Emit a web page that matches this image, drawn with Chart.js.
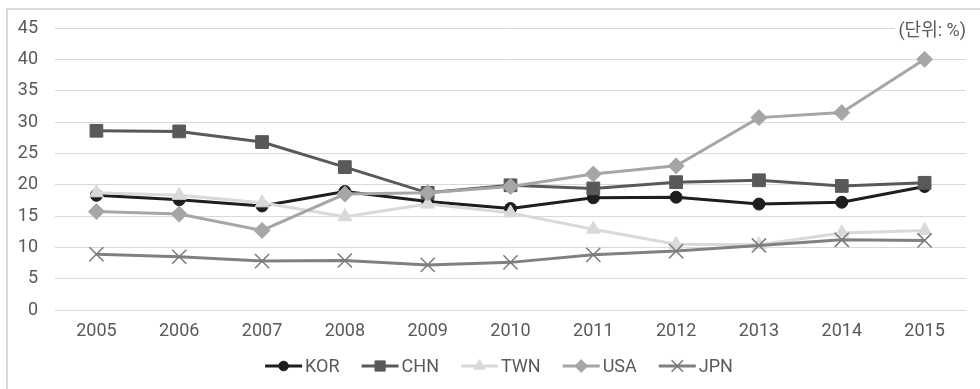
<!DOCTYPE html>
<html>
<head>
<meta charset="utf-8">
<script src="https://cdn.jsdelivr.net/npm/chart.js@4/dist/chart.umd.min.js"></script>
<style>
  html, body { margin: 0; padding: 0; background: #ffffff; }
  #wrap { position: relative; width: 980px; height: 389px; overflow: hidden; }
  #frame { position: absolute; left: 6px; top: 8px; width: 1000px; height: 400px;
           border-left: 2px solid #d9d9d9; border-top: 2px solid #d9d9d9; }
  canvas { position: absolute; left: 0; top: 0; }
</style>
</head>
<body>
<div id="wrap">
  <div id="frame"></div>
  <canvas id="c" width="980" height="389"></canvas>
</div>
<script>
// 연도별 비중 (%)
const years = ['2005', '2006', '2007', '2008', '2009', '2010', '2011', '2012', '2013', '2014', '2015'];
const kor = [18.3, 17.6, 16.6, 18.9, 17.3, 16.2, 17.9, 18.0, 16.9, 17.2, 19.7];
const chn = [28.6, 28.5, 26.8, 22.8, 18.7, 19.9, 19.4, 20.4, 20.7, 19.8, 20.3];
const twn = [18.7, 18.3, 17.1, 14.9, 16.9, 15.5, 12.9, 10.5, 10.4, 12.3, 12.7];
const usa = [15.7, 15.3, 12.7, 18.5, 18.7, 19.7, 21.7, 23.0, 30.7, 31.5, 40.0];
const jpn = [8.9, 8.5, 7.8, 7.9, 7.2, 7.6, 8.8, 9.4, 10.3, 11.2, 11.1];
const yTicks = { min: 0, max: 45, step: 5 };
const unitLabel = '(단위: %)';

const FONT = "Roboto, 'Noto Sans CJK KR', sans-serif";
const FONT_SIZE = 18;
const TEXT = '#595959';

function series(label, data, color, style, radius, order, extra) {
  return Object.assign({
    label, data, order,
    borderColor: color, backgroundColor: color,
    pointBackgroundColor: color, pointBorderColor: color,
    borderWidth: 3, tension: 0,
    pointStyle: style, pointRadius: radius, pointHoverRadius: radius,
    pointBorderWidth: 1
  }, extra || {});
}

const datasets = [
  series('KOR', kor, '#1e1e1e', 'circle', 6, 4),
  series('CHN', chn, '#595959', 'rect', 9, 3),
  series('TWN', twn, '#d9d9d9', 'triangle', 8, 2),
  series('USA', usa, '#a6a6a6', 'rectRot', 8, 1),
  series('JPN', jpn, '#808080', 'crossRot', 10, 0,
         { pointBorderWidth: 1.5, pointBorderColor: '#7a7a7a' })
];

function drawMarker(ctx, ds, x, y, scale) {
  const opts = {
    pointStyle: ds.pointStyle,
    radius: ds.pointRadius * scale,
    rotation: 0,
    borderWidth: ds.pointBorderWidth
  };
  ctx.save();
  ctx.fillStyle = ds.pointBackgroundColor;
  ctx.strokeStyle = ds.pointBorderColor;
  ctx.lineWidth = ds.pointBorderWidth;
  Chart.helpers.drawPoint(ctx, opts, x, y);
  ctx.restore();
}

// 선 + 마커 형태의 범례
const lineLegend = {
  id: 'lineLegend',
  afterDraw(chart) {
    const ctx = chart.ctx;
    const lineLen = 37, textGap = 3, itemGap = 22, cy = 366, centerX = 499;
    ctx.save();
    ctx.font = FONT_SIZE + 'px ' + FONT;
    const items = chart.data.datasets.map(ds => {
      const w = ctx.measureText(ds.label).width;
      return { ds, w, total: lineLen + textGap + w };
    });
    const totalW = items.reduce((s, it) => s + it.total, 0) + itemGap * (items.length - 1);
    let x = centerX - totalW / 2;
    items.forEach(it => {
      ctx.strokeStyle = it.ds.borderColor;
      ctx.lineWidth = 3;
      ctx.beginPath();
      ctx.moveTo(x, cy);
      ctx.lineTo(x + lineLen, cy);
      ctx.stroke();
      drawMarker(ctx, it.ds, x + lineLen / 2, cy, 0.8);
      ctx.fillStyle = TEXT;
      ctx.textAlign = 'left';
      ctx.textBaseline = 'middle';
      ctx.fillText(it.ds.label, x + lineLen + textGap, cy + 1);
      x += it.total + itemGap;
    });
    ctx.restore();
  }
};

// 단위 표시
const unitNote = {
  id: 'unitNote',
  afterDraw(chart) {
    const ctx = chart.ctx;
    const area = chart.chartArea;
    ctx.save();
    ctx.font = FONT_SIZE + 'px ' + FONT;
    const w = ctx.measureText(unitLabel).width;
    const cy = 31;
    ctx.fillStyle = '#ffffff';
    ctx.fillRect(area.right - w - 4, cy - 11, w + 4, 22);
    ctx.fillStyle = TEXT;
    ctx.textAlign = 'right';
    ctx.textBaseline = 'middle';
    ctx.fillText(unitLabel, area.right, cy);
    ctx.restore();
  }
};

new Chart(document.getElementById('c'), {
  type: 'line',
  data: { labels: years, datasets },
  options: {
    responsive: false,
    animation: false,
    layout: { padding: { left: 0, right: 14, top: 28, bottom: 47 } },
    plugins: { legend: { display: false }, tooltip: { enabled: false } },
    scales: {
      x: {
        offset: true,
        grid: { display: false, drawTicks: false },
        border: { display: false },
        ticks: { color: TEXT, font: { family: FONT, size: FONT_SIZE }, padding: 11, maxRotation: 0 },
        afterFit(scale) { scale.height = 32; }
      },
      y: {
        min: yTicks.min, max: yTicks.max,
        grid: { color: '#d9d9d9', lineWidth: 1, drawTicks: false },
        border: { display: false },
        ticks: { stepSize: yTicks.step, color: TEXT, font: { family: FONT, size: FONT_SIZE }, padding: 17 },
        afterFit(scale) { scale.width = 55; }
      }
    }
  },
  plugins: [lineLegend, unitNote]
});
</script>
</body>
</html>
